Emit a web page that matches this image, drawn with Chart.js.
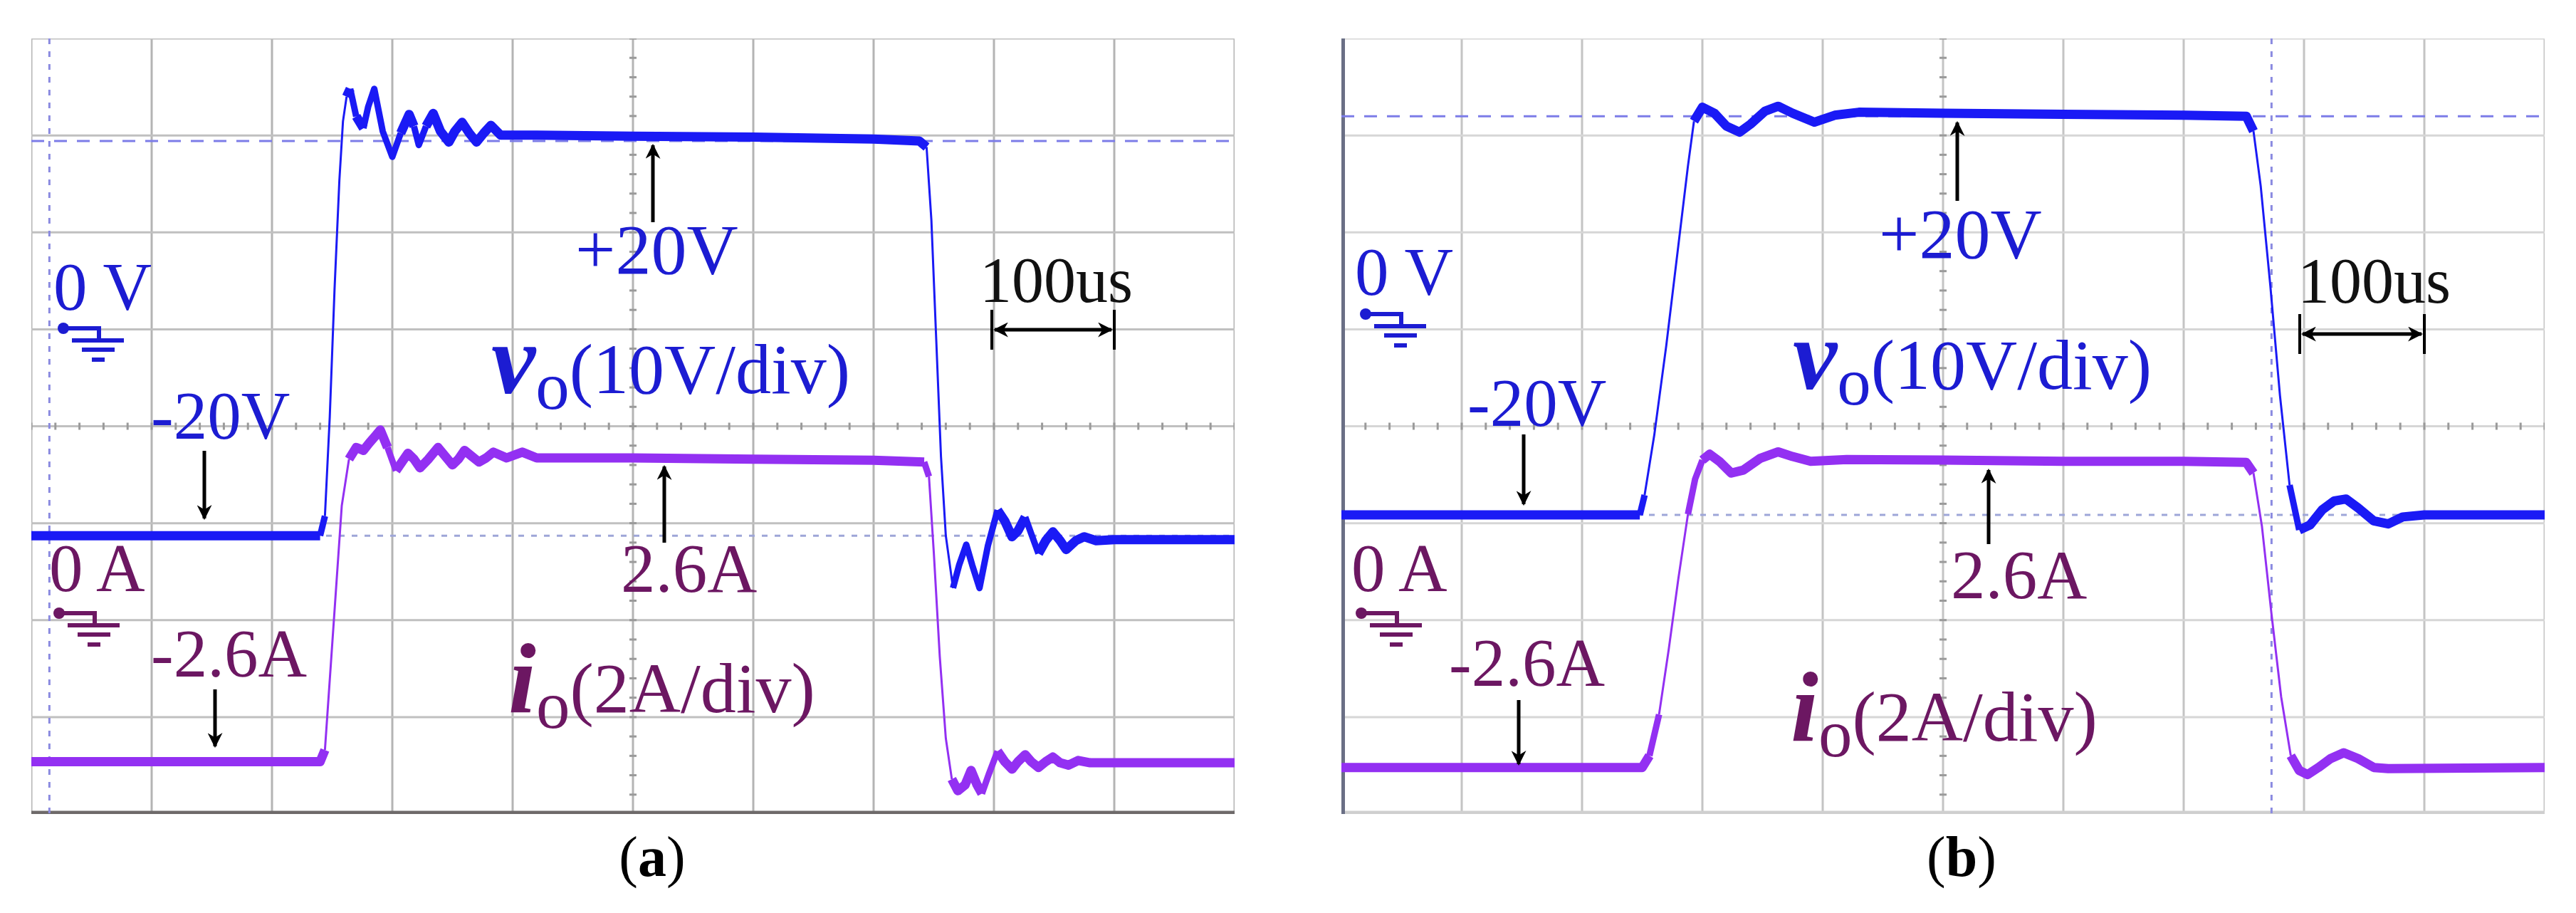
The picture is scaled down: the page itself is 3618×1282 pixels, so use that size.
<!DOCTYPE html>
<html><head><meta charset="utf-8">
<script src="https://cdn.jsdelivr.net/npm/chart.js@4/dist/chart.umd.min.js"></script>
<style>
html,body{margin:0;padding:0;background:#fff;width:3618px;height:1282px;overflow:hidden}
canvas{position:absolute}
#ov{position:absolute;left:0;top:0}
</style></head><body>
<canvas id="ca" width="1690" height="1089" style="left:44px;top:54px"></canvas>
<canvas id="cb" width="1690" height="1089" style="left:1884px;top:54px"></canvas>
<svg id="ov" width="3618" height="1282" xmlns="http://www.w3.org/2000/svg">
<defs>
<marker id="ah" viewBox="0 0 10 10" refX="9" refY="5" markerWidth="4.2" markerHeight="4.2" orient="auto-start-reverse" markerUnits="strokeWidth"><path d="M0,0 L10,5 L0,10 L3,5 z" fill="#000"/></marker>
</defs>
<g id="ann"></g>
</svg>
<script>
// time axis (us), 100 us/div
const timeTicks = [0,100,200,300,400,500,600,700,800,900,1000];
// panel (a) output voltage [t(us), V]
const vA = [[0,-20],[60,-20],[120,-20],[180,-20],[240,-20],[244,-18],[248,-8],[252,5],[256,16],[259,22],[262,24.5],[265,25.3],[270,22.5],[276,21.3],[280,23.5],[285,25.3],[292,21],[300,18.4],[307,20.8],[314,22.7],[318,21.5],[322,19.6],[328,21.5],[334,22.8],[340,21],[347,19.9],[352,21],[358,21.9],[364,20.8],[370,19.9],[376,20.8],[382,21.6],[390,20.6],[420,20.6],[500,20.5],[600,20.4],[700,20.2],[738,20],[744,19.4],[748,12],[752,0],[756,-12],[760,-20],[766,-25.3],[771,-23],[777,-20.9],[782,-23],[788,-25.3],[795,-21],[803,-17.4],[809,-18.5],[815,-20.1],[820,-19.5],[826,-18.1],[831,-19.8],[837,-21.8],[843,-20.5],[849,-19.6],[855,-20.5],[860,-21.4],[868,-20.5],[875,-20.1],[885,-20.5],[900,-20.4],[950,-20.4],[1000,-20.4]];
// panel (a) output current [t(us), A]
const iA = [[0,-2.6],[120,-2.6],[240,-2.6],[244,-2.4],[248,-1.2],[252,0],[258,1.8],[264,2.6],[270,2.8],[276,2.75],[281,2.88],[286,3.0],[290,3.1],[296,2.8],[303,2.4],[308,2.55],[313,2.7],[318,2.6],[323,2.45],[330,2.6],[338,2.8],[344,2.65],[350,2.5],[355,2.6],[360,2.75],[366,2.65],[372,2.55],[378,2.62],[384,2.72],[395,2.62],[408,2.72],[420,2.62],[500,2.62],[600,2.6],[700,2.58],[742,2.55],[746,2.3],[750,1.0],[755,-0.8],[760,-2.2],[765,-2.9],[770,-3.1],[776,-3.0],[781,-2.75],[786,-3.0],[790,-3.15],[796,-2.8],[803,-2.42],[809,-2.6],[815,-2.73],[820,-2.6],[826,-2.48],[831,-2.6],[837,-2.7],[843,-2.6],[849,-2.52],[855,-2.62],[862,-2.66],[870,-2.58],[880,-2.62],[1000,-2.62]];
// panel (b) output voltage
const vB = [[0,-20],[100,-20],[200,-20],[248,-20],[252,-18],[260,-12],[270,-3],[280,7],[288,15],[293,19.5],[300,20.9],[310,20.3],[320,19],[331,18.4],[340,19.2],[352,20.5],[363,21],[375,20.3],[393,19.4],[410,20.1],[430,20.4],[500,20.3],[600,20.2],[700,20.1],[752,20],[758,18.5],[764,13],[772,3],[780,-8],[788,-17],[796,-21.5],[805,-21],[815,-19.5],[825,-18.6],[835,-18.4],[845,-19.3],[858,-20.6],[870,-20.9],[882,-20.2],[900,-20],[1000,-20]];
// panel (b) output current
const iB = [[0,-2.6],[120,-2.6],[250,-2.6],[256,-2.4],[264,-1.7],[272,-0.6],[280,0.6],[288,1.7],[294,2.3],[300,2.62],[306,2.72],[314,2.6],[324,2.4],[334,2.45],[348,2.65],[363,2.76],[375,2.68],[390,2.6],[420,2.63],[500,2.62],[600,2.6],[700,2.6],[752,2.58],[758,2.4],[765,1.5],[773,0],[781,-1.4],[789,-2.4],[796,-2.65],[803,-2.72],[812,-2.6],[822,-2.45],[833,-2.35],[845,-2.45],[858,-2.6],[870,-2.62],[1000,-2.6]];
// reference levels
const vLevels = [20,-20];

const VCOL = '#1a1af5', ICOL = '#9330f2';
const SERIF = '"Liberation Serif", "Times New Roman", Times, "DejaVu Serif", serif';

function seg(ctx){
  const dx = Math.abs(ctx.p1.x-ctx.p0.x)+0.01, dy = Math.abs(ctx.p1.y-ctx.p0.y);
  const r = dy/dx;
  return r > 5.5 ? 3 : (r > 2.5 ? 9 : 13);
}

function makePanel(id, v, i, vr, ir, opt){
  const gridPlugin = {
    id:'grid'+id,
    beforeDatasetsDraw(chart){
      const c = chart.ctx, a = chart.chartArea, xs = chart.scales.x, ys = chart.scales.y;
      c.save();
      c.strokeStyle = opt.gridV; c.lineWidth = 3;
      timeTicks.forEach(t=>{ const x = xs.getPixelForValue(t); c.beginPath(); c.moveTo(x,a.top); c.lineTo(x,a.bottom); c.stroke(); });
      c.strokeStyle = opt.gridH;
      for(let k=0;k<=8;k++){ const y = a.top + k*(a.bottom-a.top)/8; c.beginPath(); c.moveTo(a.left,y); c.lineTo(a.right,y); c.stroke(); }
      c.strokeStyle = '#9a9a9a'; c.lineWidth = 3;
      const cy = a.top + (a.bottom-a.top)/2, cx = xs.getPixelForValue(500);
      for(let t=0;t<=1000;t+=20){ const x = xs.getPixelForValue(t); c.beginPath(); c.moveTo(x,cy-5); c.lineTo(x,cy+5); c.stroke(); }
      for(let k=0;k<=40;k++){ const y = a.top + k*(a.bottom-a.top)/40; c.beginPath(); c.moveTo(cx-5,y); c.lineTo(cx+5,y); c.stroke(); }
      c.strokeStyle = opt.bottom; c.lineWidth = 5;
      c.beginPath(); c.moveTo(a.left,a.bottom-2); c.lineTo(a.right,a.bottom-2); c.stroke();
      if(opt.leftBorder){ c.strokeStyle='#6a6f85'; c.lineWidth=6; c.beginPath(); c.moveTo(a.left+2,a.top); c.lineTo(a.left+2,a.bottom); c.stroke(); }
      c.strokeStyle = '#7c7ce8'; c.lineWidth = 3;
      c.setLineDash([18,14]);
      let y = ys.getPixelForValue(vLevels[0]); c.beginPath(); c.moveTo(a.left,y); c.lineTo(a.right,y); c.stroke();
      c.strokeStyle = '#9ea6d8'; c.setLineDash([8,10]);
      y = ys.getPixelForValue(vLevels[1]); c.beginPath(); c.moveTo(a.left,y); c.lineTo(a.right,y); c.stroke();
      c.strokeStyle = '#8a8ae0'; c.setLineDash([8,10]);
      const x = xs.getPixelForValue(opt.cursorT); c.beginPath(); c.moveTo(x,a.top); c.lineTo(x,a.bottom); c.stroke();
      c.restore();
    }
  };
  return new Chart(document.getElementById(id), {
    type:'line',
    data:{datasets:[
      {data:v.map(p=>({x:p[0],y:p[1]})), yAxisID:'y', borderColor:VCOL, borderWidth:13, pointRadius:0, tension:0, segment:{borderWidth:seg}, borderJoinStyle:'round'},
      {data:i.map(p=>({x:p[0],y:p[1]})), yAxisID:'y2', borderColor:ICOL, borderWidth:13, pointRadius:0, tension:0, segment:{borderWidth:seg}, borderJoinStyle:'round'}
    ]},
    options:{responsive:false, devicePixelRatio:1, animation:false, layout:{padding:0},
      plugins:{legend:{display:false}, tooltip:{enabled:false}},
      scales:{x:{type:'linear',min:0,max:1000,display:false},
              y:{min:vr[0],max:vr[1],display:false},
              y2:{min:ir[0],max:ir[1],display:false}}},
    plugins:[gridPlugin]
  });
}
makePanel('ca', vA, iA, [-48.2,30.4], [-3.5,9.83], {gridV:'#b4b4b4', gridH:'#c0c0c0', bottom:'#6e6a6a', cursorT:15, leftBorder:false});
makePanel('cb', vB, iB, [-50,27.8], [-3.39,9.78], {gridV:'#c4c4c4', gridH:'#d6d6d6', bottom:'#cfcfcf', cursorT:773, leftBorder:true});

const NS='http://www.w3.org/2000/svg', g=document.getElementById('ann');
function el(tag, attrs, text){ const e=document.createElementNS(NS,tag); for(const k in attrs) e.setAttribute(k,attrs[k]); if(text!==undefined) e.textContent=text; if(tag==='text') e.style.fontFamily=SERIF; g.appendChild(e); return e; }
function txt(x,y,s,col,size,extra){ return el('text',Object.assign({x:x,y:y,fill:col,'font-size':size},extra||{}),s); }
function arrow(x,y1,y2){ el('line',{x1:x,y1:y1,x2:x,y2:y2,stroke:'#000','stroke-width':5,'marker-end':'url(#ah)'}); }
function span(x1,x2,y){ el('line',{x1:x1+4,y1:y,x2:x2-4,y2:y,stroke:'#000','stroke-width':5,'marker-end':'url(#ah)','marker-start':'url(#ah)'});
  el('line',{x1:x1,y1:y-28,x2:x1,y2:y+28,stroke:'#000','stroke-width':4}); el('line',{x1:x2,y1:y-28,x2:x2,y2:y+28,stroke:'#000','stroke-width':4}); }
function ground(x,y,col){ el('circle',{cx:x,cy:y,r:8,fill:col}); el('polyline',{points:`${x},${y} ${x+50},${y} ${x+50},${y+17}`,fill:'none',stroke:col,'stroke-width':6});
  el('line',{x1:x+12,y1:y+17,x2:x+85,y2:y+17,stroke:col,'stroke-width':6}); el('line',{x1:x+26,y1:y+30,x2:x+72,y2:y+30,stroke:col,'stroke-width':6}); el('line',{x1:x+40,y1:y+44,x2:x+58,y2:y+44,stroke:col,'stroke-width':6}); }
const VT='#1c1cd2', IT='#6c1762';
function label(x,y,sym,unit,col){
  const t=el('text',{x:x,y:y,fill:col,'font-size':100});
  const a=document.createElementNS(NS,'tspan'); a.setAttribute('font-weight','bold'); a.setAttribute('font-style','italic'); a.setAttribute('font-size','140'); a.textContent=sym; t.appendChild(a);
  const b=document.createElementNS(NS,'tspan'); b.setAttribute('dy','22'); b.setAttribute('font-size','95'); b.textContent='o'; t.appendChild(b);
  const c=document.createElementNS(NS,'tspan'); c.setAttribute('dy','-22'); c.textContent=unit; t.appendChild(c);
}
const panels=[
 {zv:[75,435], gv:[89,461], m20:[212,616], p20:[808,384], vo:[690,552], us:[1376,424], usy:463, usx:[1393,1565], a26:[872,831], io:[714,1000], za:[69,830], ga:[83,861], m26:[212,950],
  arr:[[287,633,728],[302,968,1048],[917,312,204],[933,762,655]], cap:[916,'a']},
 {zv:[1903,414], gv:[1918,441], m20:[2061,598], p20:[2639,362], vo:[2518,546], us:[3227,425], usy:469, usx:[3230,3405], a26:[2740,840], io:[2515,1040], za:[1898,830], ga:[1912,861], m26:[2035,963],
  arr:[[2140,610,708],[2133,983,1073],[2749,282,172],[2793,764,660]], cap:[2755,'b']}
];
panels.forEach(p=>{
  txt(p.zv[0],p.zv[1],'0 V',VT,95); ground(p.gv[0],p.gv[1],VT);
  txt(p.m20[0],p.m20[1],'-20V',VT,95); txt(p.p20[0],p.p20[1],'+20V',VT,100);
  label(p.vo[0],p.vo[1],'v','(10V/div)',VT);
  txt(p.us[0],p.us[1],'100us','#111',90); span(p.usx[0],p.usx[1],p.usy);
  txt(p.a26[0],p.a26[1],'2.6A',IT,97); label(p.io[0],p.io[1],'i','(2A/div)',IT);
  txt(p.za[0],p.za[1],'0 A',IT,95); ground(p.ga[0],p.ga[1],IT);
  txt(p.m26[0],p.m26[1],'-2.6A',IT,95);
  p.arr.forEach(a=>arrow(a[0],a[1],a[2]));
  const t=el('text',{x:p.cap[0],y:1230,fill:'#000','font-size':80,'text-anchor':'middle'});
  t.appendChild(document.createTextNode('('));
  const b=document.createElementNS(NS,'tspan'); b.setAttribute('font-weight','bold'); b.textContent=p.cap[1]; t.appendChild(b);
  t.appendChild(document.createTextNode(')'));
});
</script>
</body></html>
